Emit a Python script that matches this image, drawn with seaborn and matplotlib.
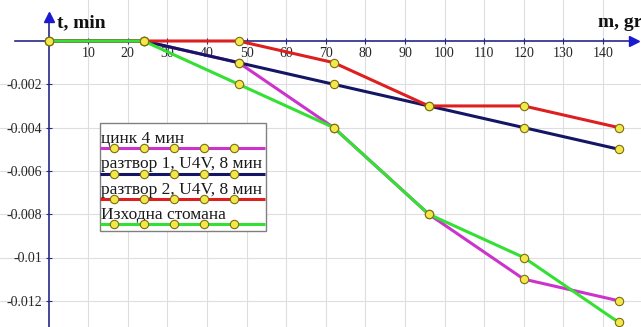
import numpy as np
import pandas as pd
import matplotlib
matplotlib.use("Agg")
import matplotlib.pyplot as plt
import seaborn as sns
from matplotlib.patches import Rectangle

# ---- data ----
t_min = [0, 24, 48, 72, 96, 120, 144]
zinc_4 = [0, 0, -0.001, -0.004, -0.008, -0.011, -0.012]
sol1_u4v = [0, 0, -0.001, -0.002, -0.003, -0.004, -0.005]
sol2_u4v = [0, 0, 0, -0.001, -0.003, -0.003, -0.004]
base_steel = [0, 0, -0.002, -0.004, -0.008, -0.010, -0.013]

series_names = ["цинк 4 мин", "разтвор 1, U4V, 8 мин", "разтвор 2, U4V, 8 мин", "Изходна стомана"]
series_values = [zinc_4, sol1_u4v, sol2_u4v, base_steel]
series_colors = ["#cc33cc", "#151565", "#dd1f1f", "#33e033"]

x_ticks = [10, 20, 30, 40, 50, 60, 70, 80, 90, 100, 110, 120, 130, 140]
y_ticks = [-0.002, -0.004, -0.006, -0.008, -0.010, -0.012]
y_tick_labels = ["-0.002", "-0.004", "-0.006", "-0.008", "-0.01", "-0.012"]
x_label = "m, gr"
y_label = "t, min"

rows = []
for name, vals in zip(series_names, series_values):
    for t, v in zip(t_min, vals):
        rows.append({"t": t, "m": v, "series": name})
df = pd.DataFrame(rows)

sns.set_theme(style="white")
plt.rcParams["font.family"] = ["Liberation Serif", "DejaVu Serif"]

W, H = 641, 327
fig = plt.figure(figsize=(W / 100, H / 100), dpi=100)
ax = fig.add_axes([0, 0, 1, 1])
ax.set_facecolor("white")

# pixel mapping derived from the reference axes
x0_px, x_scale = 48.6, 3.96
y0_px, y_scale = 41.0, 21650.0
ax.set_xlim(-x0_px / x_scale, (W - x0_px) / x_scale)
ax.set_ylim(-(H - y0_px) / y_scale, y0_px / y_scale)

# grid
for xv in x_ticks:
    ax.axvline(xv, color="#dedee2", lw=0.8, zorder=0)
for yv in y_ticks:
    ax.axhline(yv, color="#dedee2", lw=0.8, zorder=0)

palette = dict(zip(series_names, series_colors))
sns.lineplot(data=df, x="t", y="m", hue="series", hue_order=series_names,
             palette=palette, estimator=None, errorbar=None, sort=False,
             marker="o", markersize=6, markerfacecolor="#f3e84a",
             markeredgecolor="#7a6d10", markeredgewidth=0.8,
             linewidth=2.2, legend=False, ax=ax, zorder=3)

# axes through origin
axis_col = "#28288a"
for s in ["top", "right"]:
    ax.spines[s].set_visible(False)
ax.spines["left"].set_position(("data", 0))
ax.spines["bottom"].set_position(("data", 0))
ax.spines["left"].set_color(axis_col)
ax.spines["bottom"].set_color(axis_col)
ax.spines["left"].set_linewidth(1.2)
ax.spines["bottom"].set_linewidth(1.2)
ax.spines["bottom"].set_bounds((15 - x0_px) / x_scale, (632 - x0_px) / x_scale)
ax.spines["left"].set_bounds(-(H + 5 - y0_px) / y_scale, (y0_px - 17) / y_scale)
ax.spines["left"].set_zorder(2)
ax.spines["bottom"].set_zorder(2)

ax.plot((634 - x0_px) / x_scale, 0, marker=">", color="#1a1ad0", markersize=7, zorder=5, clip_on=False)
ax.plot(0, (y0_px - 17) / y_scale, marker="^", color="#1a1ad0", markersize=7, zorder=5, clip_on=False)

ax.set_xticks(x_ticks)
ax.set_xticklabels([str(v) for v in x_ticks])
ax.set_yticks(y_ticks)
ax.set_yticklabels(y_tick_labels)
ax.tick_params(axis="x", direction="inout", length=5, width=0.8, color=axis_col,
               labelsize=10, pad=2, labelcolor="#262626", bottom=True)
ax.tick_params(axis="y", direction="inout", length=5, width=0.8, color=axis_col,
               labelsize=10, pad=2, labelcolor="#262626", left=True)
ax.set_xlabel("")
ax.set_ylabel("")

ax.text(57 / W, 1 - 27 / H, y_label, transform=ax.transAxes, fontsize=14,
        fontweight="bold", va="baseline", ha="left", color="#111111")
ax.text(598 / W, 1 - 27 / H, x_label, transform=ax.transAxes, fontsize=14,
        fontweight="bold", va="baseline", ha="left", color="#111111")

# ---- custom legend (text above a line sample) ----
def fx(px):
    return px / W

def fy(py):
    return 1 - py / H

lx0, lx1, ly0, ly1 = 99.5, 265.5, 123.3, 231
ax.add_patch(Rectangle((fx(lx0), fy(ly1)), fx(lx1) - fx(lx0), fy(ly0) - fy(ly1),
                       transform=ax.transAxes, facecolor="white", edgecolor="#808080",
                       lw=1.0, zorder=6))
line_ys = [148.3, 174, 199.3, 224.3]
marker_xs = [114, 144, 174, 204, 234]
for name, col, ly in zip(series_names, series_colors, line_ys):
    ax.text(fx(101), fy(ly - 5.5), name, transform=ax.transAxes, fontsize=12.5,
            va="baseline", ha="left", color="#1a1a1a", zorder=7)
    ax.plot([fx(lx0 + 1), fx(lx1 - 1)], [fy(ly), fy(ly)], color=col, lw=2.2,
            transform=ax.transAxes, zorder=7, solid_capstyle="butt")
    ax.plot([fx(m) for m in marker_xs], [fy(ly)] * len(marker_xs), ls="none",
            marker="o", markersize=6, markerfacecolor="#f3e84a",
            markeredgecolor="#7a6d10", markeredgewidth=0.8,
            transform=ax.transAxes, zorder=8)

fig.savefig("out.png", dpi=100)
